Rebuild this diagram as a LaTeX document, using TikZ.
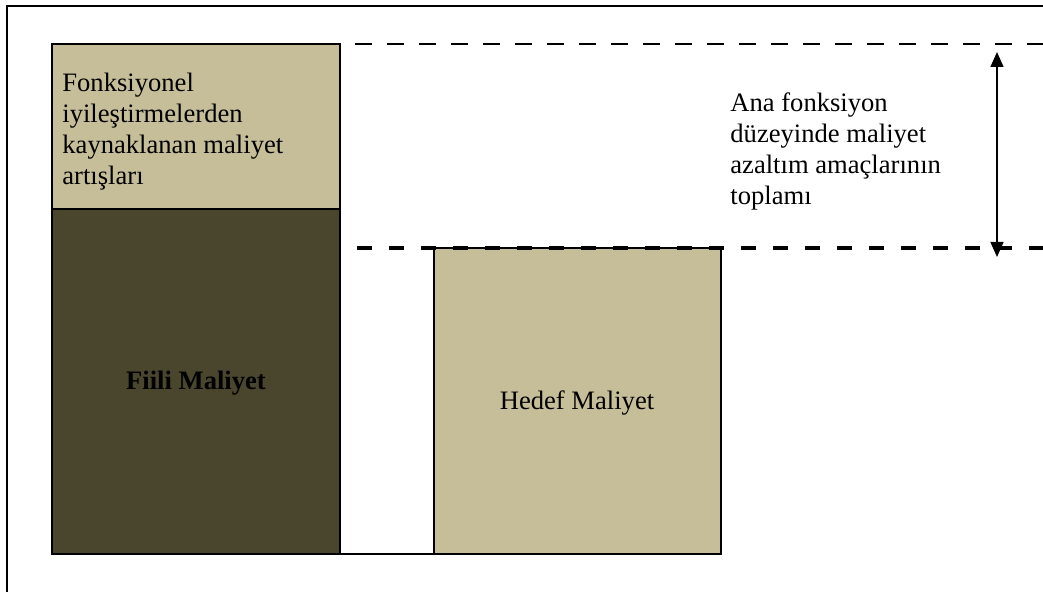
\documentclass[tikz,border=0pt]{standalone}
\usepackage{fontspec}
\setmainfont{Liberation Serif}
\usetikzlibrary{arrows.meta}
\definecolor{boxlight}{RGB}{197,190,152}
\definecolor{boxdark}{RGB}{74,69,45}
\tikzset{
  frameline/.style={line width=1pt, black},
  costbox/.style={draw=black, line width=1pt, inner sep=0pt, outer sep=0pt, anchor=north west},
  txt/.style={inner sep=0pt, align=left, font=\fontsize{13.3}{15.5}\selectfont},
  thindash/.style={line width=1pt, dash pattern=on 8.5pt off 7.5pt, dash phase=8.5pt},
  thickdash/.style={line width=2pt, dash pattern=on 7.5pt off 8.5pt, dash phase=7.5pt},
  dimarrow/.style={line width=0.7pt, {Triangle[length=7.5pt,width=6.5pt]}-{Triangle[length=7.5pt,width=6.5pt]}}
}
\begin{document}
\begin{tikzpicture}[x=0.5pt,y=-0.5pt]
\useasboundingbox (0,0) rectangle (1043,592);
% outer frame (cropped at right and bottom)
\coordinate (frBL) at (7,592);
\coordinate (frTL) at (7,6);
\coordinate (frTR) at (1043,6);
\draw[frameline] (frBL) -- (frTL) -- (frTR);
% boxes
\node[costbox, fill=boxlight, minimum width=144pt, minimum height=82.5pt] (inc) at (52,44) {};
\node[costbox, fill=boxdark, minimum width=144pt, minimum height=172.5pt] (act) at (52,209) {};
\node[costbox, fill=boxlight, minimum width=143.5pt, minimum height=153pt] (tgt) at (434,248) {};
% base line
\draw[line width=1.2pt] (act.south west) -- (tgt.south east);
% dashed reference lines
\coordinate (topR) at (1043,44);
\coordinate (lowL) at (340,248);
\coordinate (lowR) at (1043,248);
\draw[thindash] (inc.north east) -- (topR);
\draw[thickdash] (lowL) -- (lowR);
% dimension arrow
\coordinate (arrT) at (997,52);
\coordinate (arrB) at (997,257);
\draw[dimarrow] (arrT) -- (arrB);
% texts
\node[txt, anchor=north west] (inctxt) at (62,73) {Fonksiyonel\\iyileştirmelerden\\kaynaklanan maliyet\\artışları};
\node[txt, anchor=north west] (sumtxt) at (730,92) {Ana fonksiyon\\düzeyinde maliyet\\azaltım amaçlarının\\toplamı};
\node[txt, font=\fontsize{13.3}{15.5}\selectfont\bfseries] (acttxt) at (196,383) {Fiili Maliyet};
\node[txt] (tgttxt) at (577,403) {Hedef Maliyet};
\end{tikzpicture}
\end{document}
